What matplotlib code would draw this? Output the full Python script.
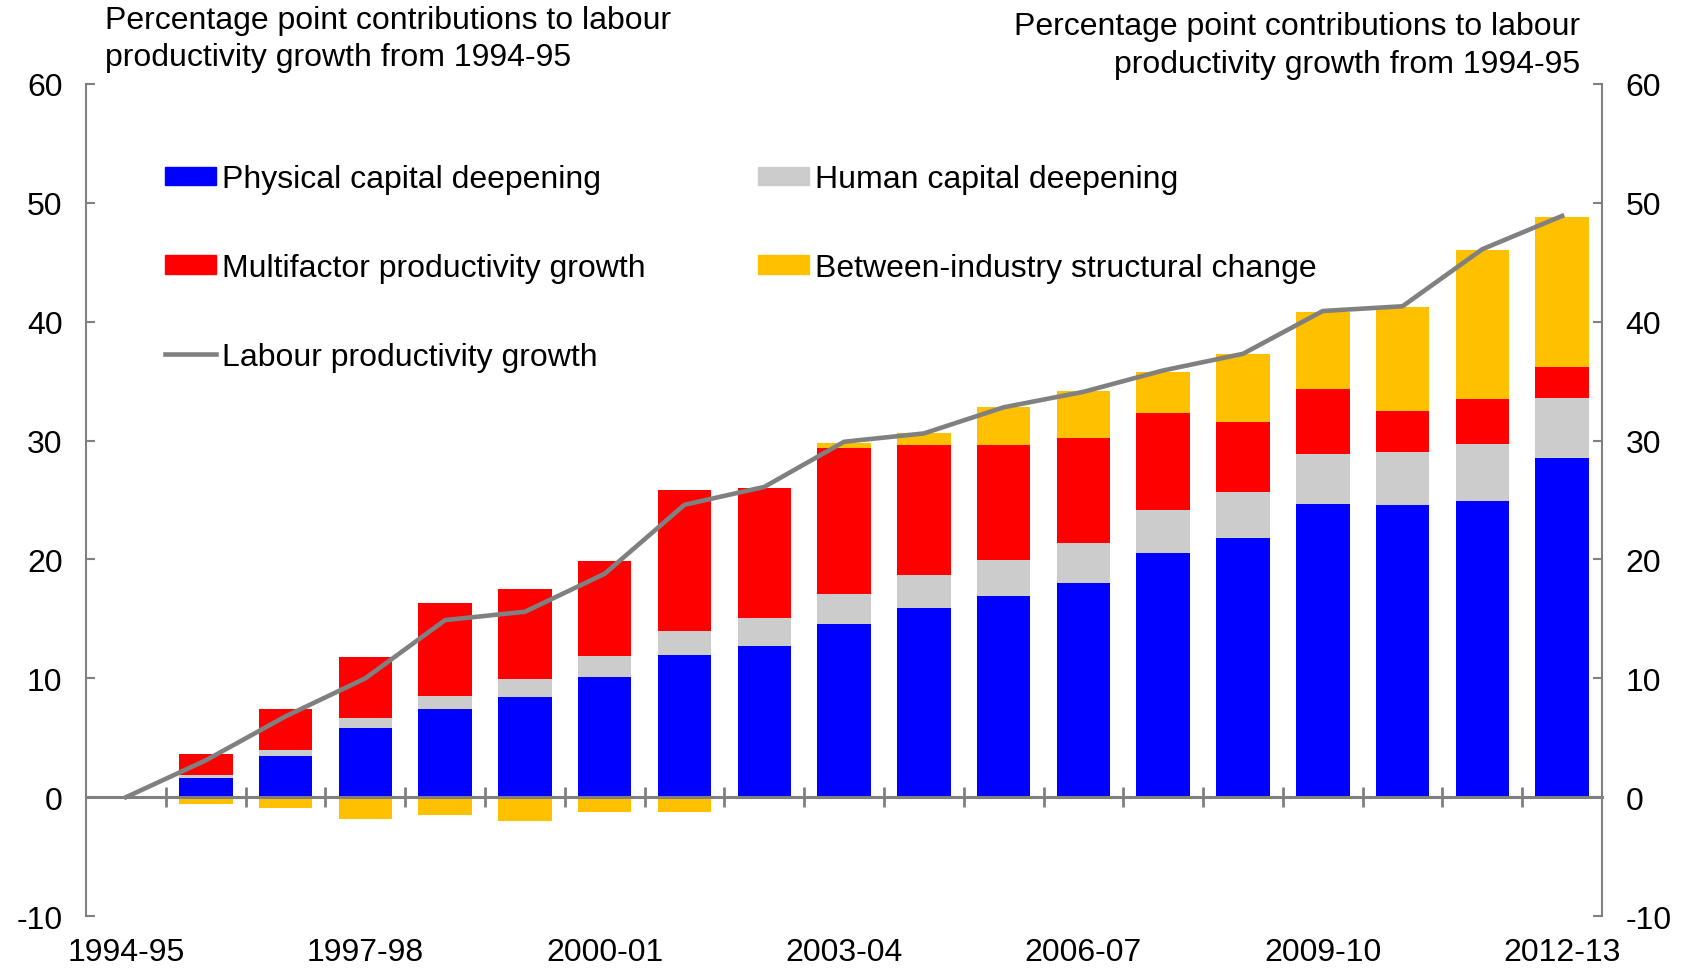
import matplotlib
matplotlib.use("Agg")
import matplotlib.pyplot as plt
import numpy as np
from matplotlib.lines import Line2D
from matplotlib.patches import Patch

years = ["1994-95", "1995-96", "1996-97", "1997-98", "1998-99", "1999-00",
         "2000-01", "2001-02", "2002-03", "2003-04", "2004-05", "2005-06",
         "2006-07", "2007-08", "2008-09", "2009-10", "2010-11", "2011-12",
         "2012-13"]

# contributions for 1995-96 .. 2012-13 (percentage points, cumulative from 1994-95)
physical = [1.6, 3.45, 5.8, 7.45, 8.4, 10.1, 12.0, 12.75, 14.6, 15.95,
            16.95, 18.05, 20.55, 21.8, 24.7, 24.6, 24.9, 28.5]
human = [0.3, 0.5, 0.85, 1.1, 1.5, 1.75, 2.0, 2.35, 2.5, 2.75,
         3.0, 3.35, 3.6, 3.9, 4.2, 4.4, 4.8, 5.1]
mfp = [1.75, 3.45, 5.15, 7.75, 7.65, 8.05, 11.8, 10.95, 12.3, 10.95,
       9.7, 8.85, 8.2, 5.85, 5.45, 3.5, 3.8, 2.6]
structural = [-0.55, -0.9, -1.8, -1.5, -2.0, -1.25, -1.25, 0.0, 0.4, 0.95,
              3.15, 3.9, 3.45, 5.75, 6.45, 8.7, 12.5, 12.6]
labour = [0.0, 3.1, 6.8, 10.0, 14.9, 15.6, 18.8, 24.6, 26.1, 29.9, 30.6,
          32.8, 34.1, 35.9, 37.3, 40.9, 41.3, 46.1, 48.9]

y_ticks = [-10, 0, 10, 20, 30, 40, 50, 60]
x_label_idx = [0, 3, 6, 9, 12, 15, 18]

BLUE = "#0000FF"
GREY = "#CCCCCC"
RED = "#FF0000"
YELLOW = "#FFC000"
LINE = "#808080"
AXIS = "#808080"

plt.rcParams.update({
    "font.family": ["Liberation Sans", "DejaVu Sans"],
    "font.size": 23,
    "axes.unicode_minus": False,
})

fig = plt.figure(figsize=(16.89, 9.70), dpi=100)
ax = fig.add_axes([0.051, 0.0546, 0.8975, 0.8578])

x_all = np.arange(len(years))
xb = x_all[1:]
w = 0.67

phys = np.array(physical)
hum = np.array(human)
mf = np.array(mfp)
st = np.array(structural)

ax.bar(xb, phys, w, color=BLUE, zorder=2)
ax.bar(xb, hum, w, bottom=phys, color=GREY, zorder=2)
ax.bar(xb, mf, w, bottom=phys + hum, color=RED, zorder=2)
pos_base = phys + hum + mf
st_bottom = np.where(st >= 0, pos_base, 0)
ax.bar(xb, st, w, bottom=st_bottom, color=YELLOW, zorder=2)
ax.plot(x_all, labour, color=LINE, lw=3.3, zorder=3)

ax.set_xlim(-0.5, len(years) - 0.5)
ax.set_ylim(-10, 60)

# y axes on both sides
ax.set_yticks(y_ticks)
ax.tick_params(axis="y", direction="in", length=6.5, width=1.5, color=AXIS,
               pad=17, left=True, right=True, labelleft=True, labelright=True)
ax.spines["top"].set_visible(False)
for side in ("left", "right"):
    ax.spines[side].set_color(AXIS)
    ax.spines[side].set_linewidth(1.5)

# zero line with category boundary ticks
ax.spines["bottom"].set_position(("data", 0))
ax.spines["bottom"].set_color(AXIS)
ax.spines["bottom"].set_linewidth(2.2)
ax.spines["bottom"].set_zorder(4)
ax.set_xticks(np.arange(0.5, len(years) - 1, 1.0))
ax.tick_params(axis="x", direction="inout", length=14, width=2, color=AXIS,
               labelbottom=False)

sec = ax.secondary_xaxis("bottom")
sec.set_xticks(x_label_idx, [years[i] for i in x_label_idx])
sec.spines["bottom"].set_visible(False)
sec.tick_params(axis="x", length=0, pad=15)

handles = [
    Patch(color=BLUE, label="Physical capital deepening"),
    Patch(color=RED, label="Multifactor productivity growth"),
    Line2D([], [], color=LINE, lw=3.3, label="Labour productivity growth"),
    Patch(color=GREY, label="Human capital deepening"),
    Patch(color=YELLOW, label="Between-industry structural change"),
]
ax.legend(handles=handles, ncol=2, frameon=False, loc="upper left",
          bbox_to_anchor=(0.09, 0.843), bbox_transform=fig.transFigure,
          handlelength=1.6, handleheight=0.5, handletextpad=0.2,
          labelspacing=1.84, columnspacing=3.5, borderaxespad=0)

fig.text(0.062, 0.994, "Percentage point contributions to labour\nproductivity growth from 1994-95",
         ha="left", va="top", linespacing=1.32)
fig.text(0.9355, 0.988, "Percentage point contributions to labour\nproductivity growth from 1994-95",
         ha="right", va="top", multialignment="right", linespacing=1.36)

fig.savefig("out.png", dpi=100)
